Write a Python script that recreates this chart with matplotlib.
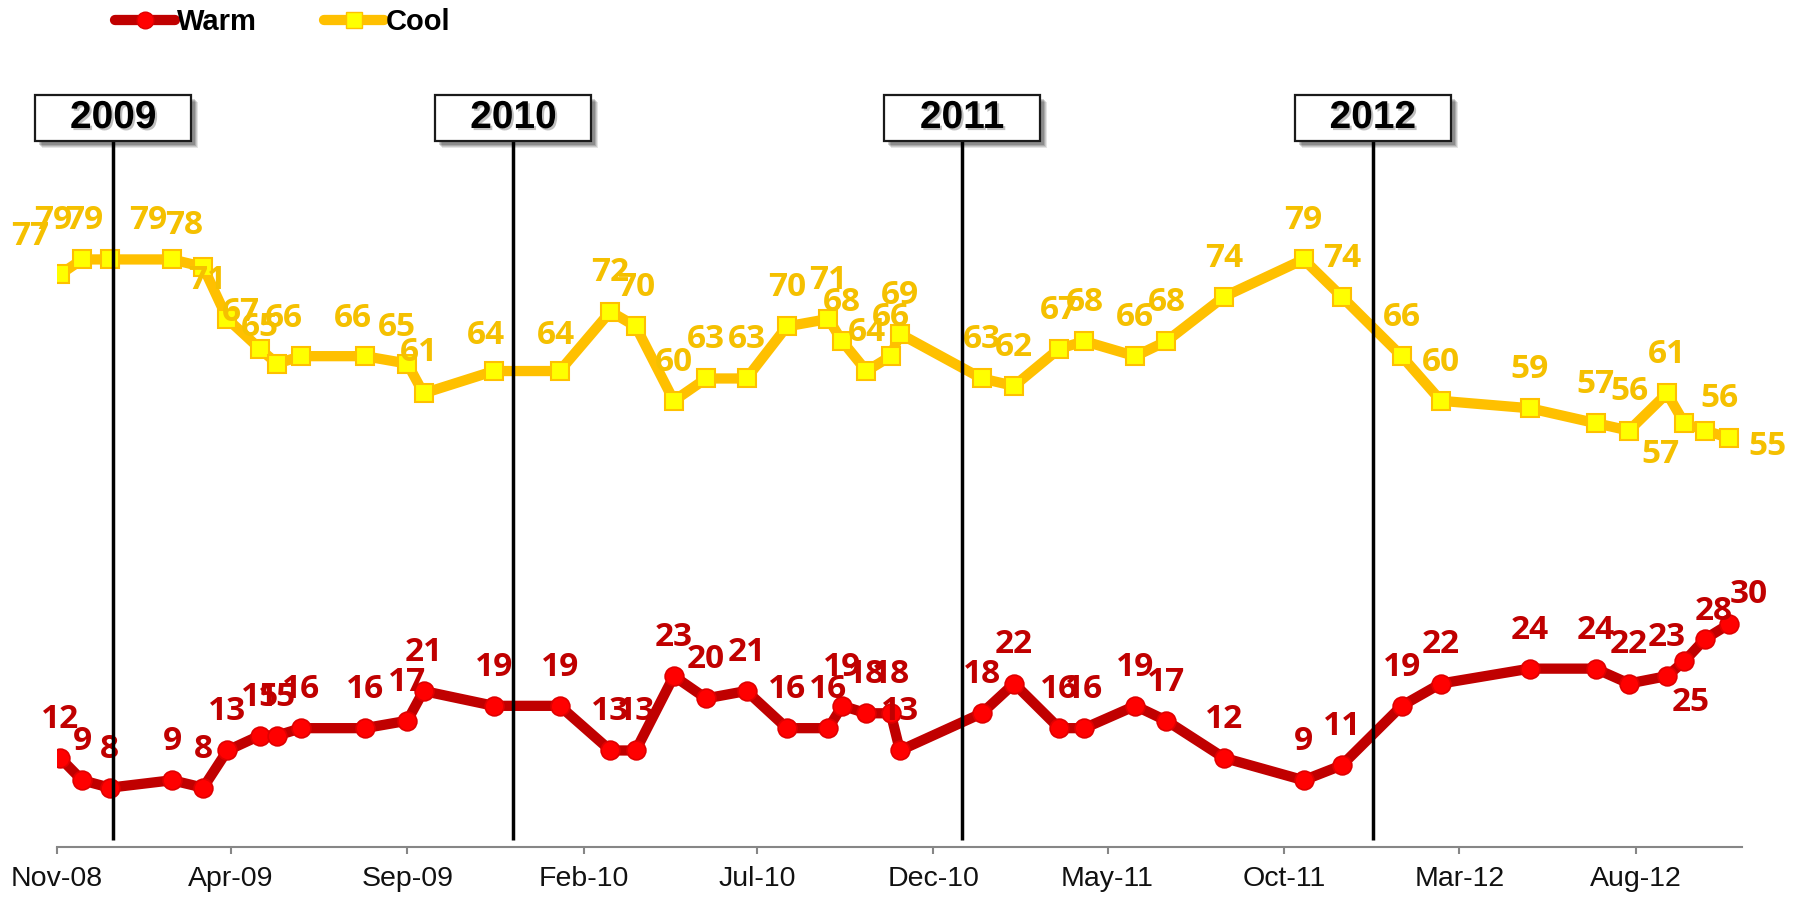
import matplotlib
matplotlib.use("Agg")
import matplotlib.pyplot as plt
import matplotlib.dates as mdates
import matplotlib.patheffects as pe
from matplotlib.patches import Rectangle
from matplotlib.lines import Line2D
from matplotlib.transforms import IdentityTransform
import pandas as pd

# ---------------- data ----------------
survey_dates = [
    "2008-11-04", "2008-11-23", "2008-12-17", "2009-02-09", "2009-03-08",
    "2009-03-29", "2009-04-26", "2009-05-11", "2009-06-01", "2009-07-26",
    "2009-09-01", "2009-09-15", "2009-11-15", "2010-01-11", "2010-02-24",
    "2010-03-18", "2010-04-20", "2010-05-18", "2010-06-22", "2010-07-27",
    "2010-09-01", "2010-09-13", "2010-10-04", "2010-10-25", "2010-11-02",
    "2011-01-12", "2011-02-09", "2011-03-20", "2011-04-11", "2011-05-25",
    "2011-06-21", "2011-08-10", "2011-10-18", "2011-11-20", "2012-01-11",
    "2012-02-14", "2012-05-01", "2012-06-27", "2012-07-26", "2012-08-28",
    "2012-09-12", "2012-09-30", "2012-10-21",
]
warm = [12, 9, 8, 9, 8, 13, 15, 15, 16, 16, 17, 21, 19, 19, 13, 13, 23, 20, 21, 16,
        16, 19, 18, 18, 13, 18, 22, 16, 16, 19, 17, 12, 9, 11, 19, 22, 24, 24, 22, 23,
        25, 28, 30]
cool = [77, 79, 79, 79, 78, 71, 67, 65, 66, 66, 65, 61, 64, 64, 72, 70, 60, 63, 63, 70,
        71, 68, 64, 66, 69, 63, 62, 67, 68, 66, 68, 74, 79, 74, 66, 60, 59, 57, 56, 61,
        57, 56, 55]
series_names = ["Warm", "Cool"]
tick_dates = ["2008-11-01", "2009-04-01", "2009-09-01", "2010-02-01", "2010-07-01",
              "2010-12-01", "2011-05-01", "2011-10-01", "2012-03-01", "2012-08-01"]
year_labels = ["2009", "2010", "2011", "2012"]
year_line_dates = ["2008-12-20", "2009-12-02", "2010-12-26", "2011-12-17"]
x_start, x_end = "2008-11-01", "2012-11-01"

# ---------------- style ----------------
W, H, DPI = 1800, 897, 100
WARM_LINE, WARM_FILL, WARM_EDGE = "#C00000", "#FF0000", "#E00000"
COOL_LINE, COOL_FILL, COOL_EDGE = "#FFC000", "#FFFF00", "#FFC000"
WARM_TXT, COOL_TXT = "#C00000", "#F5C000"
LABEL_FONT = dict(family="Open Sans", weight="bold", size=24)

# label offsets (pixels, dx right, dy down) relative to the point
DEFAULT_OFF = (0, -42)
cool_off = {0: (-30, -41), 1: (-29, -42), 2: (-26, -42), 3: (-24, -42), 4: (-19, -45),
            5: (-20, -42), 6: (-19, -40), 7: (-17, -39), 8: (-17, -41), 9: (-12, -41),
            10: (-10, -40), 11: (-5, -44), 12: (-8, -39), 13: (-4, -39),
            40: (-24, 28), 41: (14, -35), 42: (38, 5)}
warm_off = {40: (6, 38), 41: (9, -31), 42: (19, -33)}

fig = plt.figure(figsize=(W / DPI, H / DPI), dpi=DPI)
ax = fig.add_axes([56.7 / W, (H - 847.2) / H, (1742 - 56.7) / W, 744 / H])

x = pd.to_datetime(survey_dates)

common = dict(solid_capstyle="round", solid_joinstyle="round", lw=7.4)
ax.plot(x, cool, color=COOL_LINE, marker="s", ms=13.5, mfc=COOL_FILL, mec=COOL_EDGE,
        mew=1.5, zorder=3, **common)
ax.plot(x, warm, color=WARM_LINE, marker="o", ms=13.5, mfc=WARM_FILL, mec=WARM_EDGE,
        mew=1.2, zorder=3, **common)

CAP_HALF = 11.9
def add_labels(vals, color, offs):
    for i, (d, v) in enumerate(zip(x, vals)):
        dx, dy = offs.get(i, DEFAULT_OFF)
        ax.annotate(str(v), (d, v), xytext=(dx * 0.72, (-dy - CAP_HALF) * 0.72),
                    textcoords="offset points", ha="center", va="baseline",
                    color=color, zorder=5, annotation_clip=False, **LABEL_FONT)

add_labels(cool, COOL_TXT, cool_off)
add_labels(warm, WARM_TXT, warm_off)

ax.set_xlim(pd.Timestamp(x_start), pd.Timestamp(x_end))
ax.set_ylim(0, 100)
ax.xaxis.set_major_locator(matplotlib.ticker.FixedLocator(
    mdates.date2num(pd.to_datetime(tick_dates))))
ax.xaxis.set_major_formatter(mdates.DateFormatter("%b-%y"))
for s in ("left", "right", "top"):
    ax.spines[s].set_visible(False)
ax.spines["bottom"].set_color("#868686")
ax.spines["bottom"].set_linewidth(1.5)
ax.yaxis.set_visible(False)
ax.tick_params(axis="x", direction="out", length=5, width=1.5, color="#868686",
               pad=8.5, labelsize=20.5, labelcolor="#111111")
for t in ax.get_xticklabels():
    t.set_family("Liberation Sans")

# year marker lines and boxes
fig.canvas.draw()
for lab, d in zip(year_labels, year_line_dates):
    dn = pd.Timestamp(d)
    ax.plot([dn, dn], [0.97, 97], color="black", lw=2.5, zorder=6, clip_on=False,
            solid_capstyle="butt")
    xc = ax.transData.transform((mdates.date2num(dn), 0))[0]
    bw, bh = 156, 46
    ytop = H - 95
    for off, a in [(7, 0.10), (6, 0.12), (5, 0.15), (4, 0.18)]:
        fig.add_artist(Rectangle((xc - bw / 2 + off, ytop - bh - off), bw, bh,
                                 transform=IdentityTransform(), facecolor="black",
                                 edgecolor="none", alpha=a, zorder=7))
    fig.add_artist(Rectangle((xc - bw / 2, ytop - bh), bw, bh,
                             transform=IdentityTransform(), facecolor="white",
                             edgecolor="#1a1a1a", lw=1.6, zorder=8))
    fig.text(xc / W, (ytop - bh / 2) / H, lab, ha="center", va="center",
             family="Liberation Sans", weight="bold", size=28, color="black", zorder=9,
             path_effects=[pe.withSimplePatchShadow(offset=(1.5, -1.5),
                                                    shadow_rgbFace="gray", alpha=0.5)])

# legend
handles = [
    Line2D([], [], color=WARM_LINE, marker="o", ms=12, mfc=WARM_FILL, mec=WARM_EDGE,
           lw=7.4, solid_capstyle="round"),
    Line2D([], [], color=COOL_LINE, marker="s", ms=12, mfc=COOL_FILL, mec=COOL_EDGE,
           lw=7.4, solid_capstyle="round"),
]
fig.legend(handles, series_names, loc="center left", bbox_to_anchor=(115 / W, 1 - 22 / H),
           ncol=2, frameon=False, handlelength=2.05, handletextpad=0.08,
           columnspacing=2.3, borderpad=0, borderaxespad=0,
           prop=dict(family="Liberation Sans", weight="bold", size=21))

fig.savefig("out.png", dpi=DPI, facecolor="white")
